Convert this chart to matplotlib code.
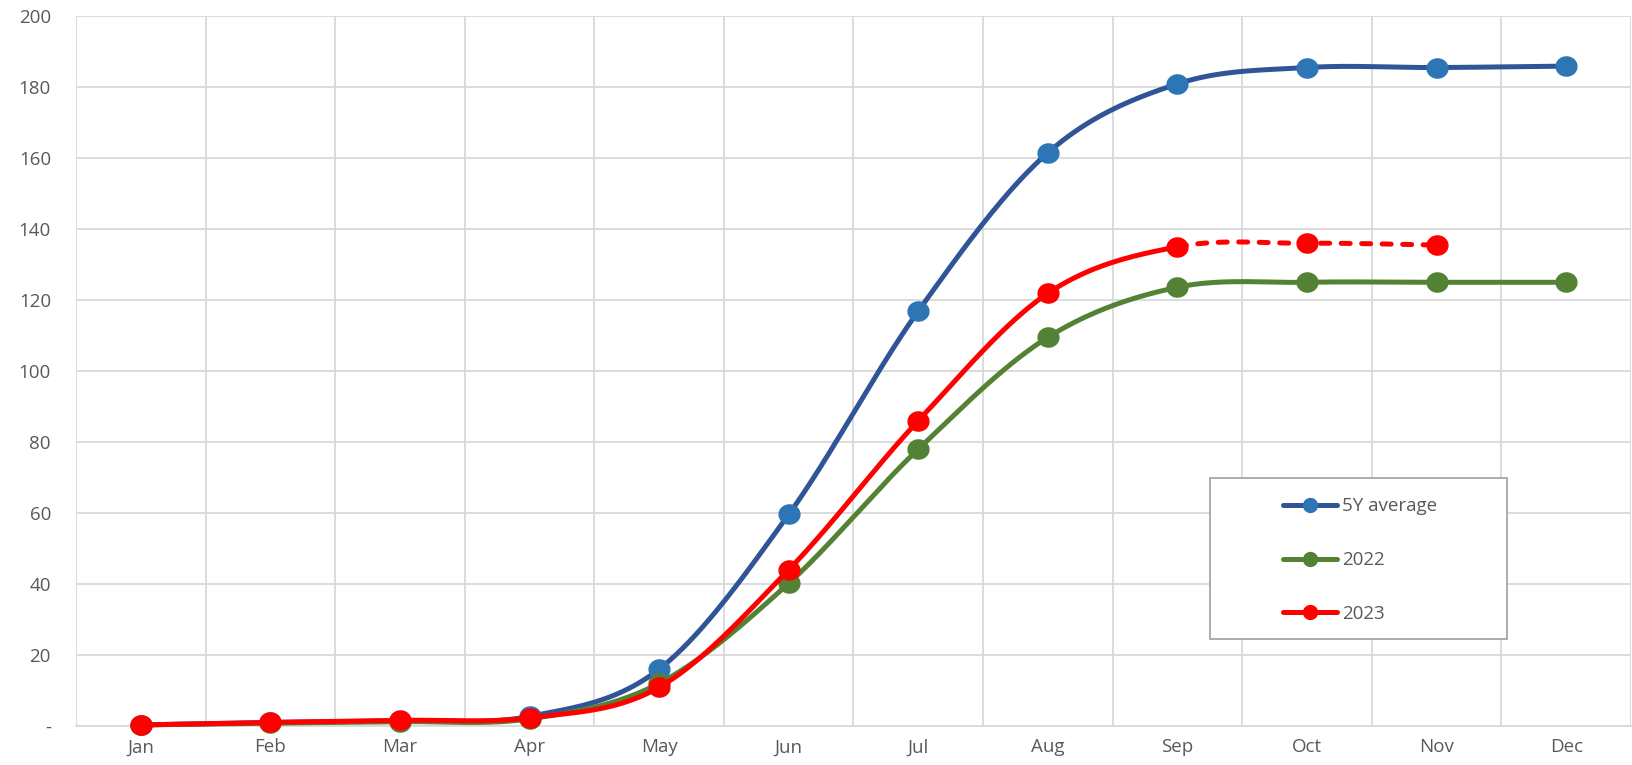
import numpy as np
import matplotlib.pyplot as plt
from matplotlib.lines import Line2D
from matplotlib.patches import Rectangle
from matplotlib.path import Path

months = ["Jan", "Feb", "Mar", "Apr", "May", "Jun", "Jul", "Aug", "Sep", "Oct", "Nov", "Dec"]
avg_5y = [0.3, 1.0, 1.5, 2.7, 16.0, 59.6, 116.9, 161.5, 180.9, 185.5, 185.5, 185.9]
y2022 = [0.3, 0.8, 1.2, 2.0, 12.0, 40.2, 78.0, 109.5, 123.6, 125.0, 125.0, 125.0]
y2023 = [0.3, 1.0, 1.6, 2.3, 10.9, 44.0, 86.0, 121.9, 135.0, 136.0, 135.5]
y2023_solid_upto = 8  # Sep, rest dashed

yticks = [0, 20, 40, 60, 80, 100, 120, 140, 160, 180, 200]
ytick_labels = ["-"] + [str(v) for v in yticks[1:]]

c_blue_line = "#2F5597"
c_blue_mark = "#2E75B6"
c_green = "#548235"
c_red = "#FF0000"
c_text = "#595959"
c_grid = "#D9D9D9"

# slightly flattened round marker, like Excel's
_t = np.linspace(0, 2 * np.pi, 60)
oval = Path(np.column_stack([np.cos(_t), 0.92 * np.sin(_t)]), closed=True)


def smooth(xs, ys, n=40):
    # Excel-like smoothing: cubic bezier with catmull-rom control points
    xs = np.asarray(xs, float)
    ys = np.asarray(ys, float)
    px, py = [], []
    m = len(xs)
    for i in range(m - 1):
        i0 = max(i - 1, 0)
        i3 = min(i + 2, m - 1)
        p0 = np.array([xs[i0], ys[i0]])
        p1 = np.array([xs[i], ys[i]])
        p2 = np.array([xs[i + 1], ys[i + 1]])
        p3 = np.array([xs[i3], ys[i3]])
        c1 = p1 + (p2 - p0) / 6
        c2 = p2 - (p3 - p1) / 6
        t = np.linspace(0, 1, n)[:, None]
        pts = ((1 - t) ** 3) * p1 + 3 * ((1 - t) ** 2) * t * c1 + 3 * (1 - t) * t ** 2 * c2 + t ** 3 * p2
        px.extend(pts[:, 0])
        py.extend(pts[:, 1])
    return np.array(px), np.array(py)


fig = plt.figure(figsize=(16.33, 7.65), dpi=100)
ax = fig.add_axes([0.0465, 0.051, 0.9523, 0.928])

x = np.arange(len(months))
lw = 3.6
ms = 15

sx, sy = smooth(x, avg_5y)
ax.plot(sx, sy, color=c_blue_line, lw=lw, zorder=3, solid_capstyle="round", clip_on=False)
ax.plot(x, avg_5y, ls="none", marker=oval, color=c_blue_mark, ms=ms, zorder=4, clip_on=False)

sx, sy = smooth(x, y2022)
ax.plot(sx, sy, color=c_green, lw=lw, zorder=3, solid_capstyle="round", clip_on=False)
ax.plot(x, y2022, ls="none", marker=oval, color=c_green, ms=ms, zorder=4, clip_on=False)

x23 = np.arange(len(y2023))
sx, sy = smooth(x23, y2023)
n_seg = 40
cut = y2023_solid_upto * n_seg
ax.plot(sx[:cut], sy[:cut], color=c_red, lw=lw, zorder=5, solid_capstyle="round", clip_on=False)
ax.plot(sx[cut - 1:], sy[cut - 1:], color=c_red, lw=lw, zorder=5, dashes=(1.8, 2.3), dash_capstyle="round")
ax.plot(x23, y2023, ls="none", marker=oval, color=c_red, ms=ms, zorder=6, clip_on=False)

ax.set_xlim(-0.5, 11.5)
ax.set_ylim(0, 200)
ax.set_yticks(yticks)
ax.set_yticklabels(ytick_labels)
ax.set_xticks(x)
ax.set_xticklabels(months)
ax.set_xticks(np.arange(-0.5, 12, 1), minor=True)

ax.grid(False)
ax.yaxis.grid(True, color=c_grid, lw=1.3)
ax.xaxis.grid(True, which="minor", color=c_grid, lw=1.3)
ax.set_axisbelow(True)
for s in ["top", "right", "left"]:
    ax.spines[s].set_visible(False)
ax.spines["bottom"].set_color(c_grid)
ax.spines["bottom"].set_linewidth(1.3)
ax.tick_params(axis="both", which="both", length=0, labelsize=13.5, labelcolor=c_text)
ax.tick_params(axis="x", pad=9)
ax.tick_params(axis="y", pad=18)
for lab in ax.get_xticklabels() + ax.get_yticklabels():
    lab.set_fontfamily("Open Sans")

# legend frame drawn separately, entries placed inside
ax.add_patch(Rectangle((0.7293, 0.1225), 0.191, 0.2268, transform=ax.transAxes,
                       facecolor="white", edgecolor="#A6A6A6", lw=1.3, zorder=7))
handles = [
    Line2D([], [], color=c_blue_line, lw=lw, marker="o", ms=10, mfc=c_blue_mark, mec=c_blue_mark,
           solid_capstyle="round"),
    Line2D([], [], color=c_green, lw=lw, marker="o", ms=10, solid_capstyle="round"),
    Line2D([], [], color=c_red, lw=lw, marker="o", ms=10, solid_capstyle="round"),
]
leg = ax.legend(handles, ["5Y average", "2022", "2023"], loc="center left",
                bbox_to_anchor=(0.776, 0.2337), frameon=False,
                labelspacing=1.9, handlelength=2.88, handletextpad=0.27,
                borderpad=0, borderaxespad=0,
                prop={"family": "Open Sans", "size": 13.5})
leg.set_zorder(8)
for t in leg.get_texts():
    t.set_color(c_text)

fig.savefig("out.png", dpi=100)
